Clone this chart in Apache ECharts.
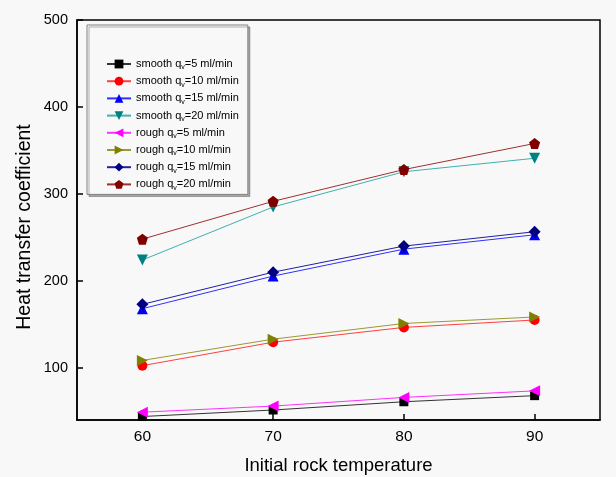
<!DOCTYPE html>
<html><head><meta charset="utf-8">
<script src="https://cdn.jsdelivr.net/npm/echarts@6/dist/echarts.min.js"></script>
<style>html,body{margin:0;padding:0;background:#f8f8f8}#c{width:616px;height:477px}</style>
</head><body><div id="c"></div>
<script>
const temps = [60, 70, 80, 90];
const xTicks = [60, 70, 80, 90];
const yTicks = [100, 200, 300, 400, 500];
const smooth5  = [44, 51.5, 61, 68];
const smooth10 = [102.5, 129.5, 146.5, 155];
const smooth15 = [168, 205.5, 236.5, 253];
const smooth20 = [224, 285, 325.5, 341];
const rough5   = [49, 56, 66, 73.5];
const rough10  = [108.5, 133, 151, 158.5];
const rough15  = [173, 210, 240, 256.5];
const rough20  = [248, 291.5, 328, 358];
const seriesNames = ['smooth q|v|=5 ml/min','smooth q|v|=10 ml/min','smooth q|v|=15 ml/min','smooth q|v|=20 ml/min',
  'rough q|v|=5 ml/min','rough q|v|=10 ml/min','rough q|v|=15 ml/min','rough q|v|=20 ml/min'];
const seriesData = [smooth5, smooth10, smooth15, smooth20, rough5, rough10, rough15, rough20];
const pentagon = 'path://M0,-1 L0.951,-0.309 L0.588,0.809 L-0.588,0.809 L-0.951,-0.309 Z';
const styles = [
  {sym:'rect', rot:0, c:'#000000', lc:'#333333', size:9},
  {sym:'circle', rot:0, c:'#ff0000', lc:'#ff4040', size:10},
  {sym:'triangle', rot:0, c:'#0000ff', lc:'#3030ff', size:11},
  {sym:'triangle', rot:180, c:'#008080', lc:'#40b0b0', size:11},
  {sym:'triangle', rot:90, c:'#ff00ff', lc:'#ff30ff', size:11},
  {sym:'triangle', rot:-90, c:'#808000', lc:'#9a9a30', size:11},
  {sym:'diamond', rot:0, c:'#000080', lc:'#2020a0', size:12},
  {sym:pentagon, rot:0, c:'#800000', lc:'#a03030', size:11}
];
const series = seriesNames.map((n, i) => ({
  name: n, type: 'line',
  data: temps.map((t, k) => [t, seriesData[i][k]]),
  symbol: styles[i].sym, symbolRotate: styles[i].rot, symbolSize: styles[i].size,
  itemStyle: {color: styles[i].c},
  lineStyle: {color: styles[i].lc, width: 1},
  z: 2 + i
}));
const chart = echarts.init(document.getElementById('c'));
chart.setOption({
  backgroundColor: '#f8f8f8',
  animation: false,
  textStyle: {fontFamily: 'Liberation Sans, Arial, sans-serif'},
  grid: {left: 77, right: 16, top: 20, bottom: 57, outerBoundsMode: 'none', containLabel: false,
    show: true, borderColor: '#000', borderWidth: 1.5, backgroundColor: 'transparent'},
  legend: {
    orient: 'vertical', left: 87, top: 25,
    padding: [32, 9, 3, 19],
    backgroundColor: '#f8f8f8',
    borderColor: '#808080', borderWidth: 1,
    shadowColor: 'rgba(0,0,0,0.3)', shadowOffsetX: 2, shadowOffsetY: 2, shadowBlur: 0,
    itemWidth: 24, itemHeight: 11, itemGap: 3.2,
    data: seriesNames,
    formatter: function (name) {
      const p = name.split('|');
      return '{a|' + p[0] + '}{s|' + p[1] + '}{a|' + p[2] + '}';
    },
    textStyle: {
      color: '#000',
      rich: {
        a: {fontSize: 11, fontFamily: 'Liberation Sans, Arial, sans-serif', color: '#000', lineHeight: 13},
        s: {fontSize: 7, fontFamily: 'Liberation Sans, Arial, sans-serif', color: '#000', padding: [7, 0, 0, 0], lineHeight: 13}
      }
    }
  },
  xAxis: {
    type: 'value', min: 55, max: 95,
    name: 'Initial rock temperature', nameLocation: 'middle', nameGap: 36,
    nameTextStyle: {fontSize: 18.5, color: '#000'},
    axisLine: {show: true, lineStyle: {color: '#000', width: 1.5}},
    axisTick: {show: true, inside: true, length: 6, customValues: xTicks, lineStyle: {color: '#000', width: 1.5}},
    axisLabel: {customValues: xTicks, fontSize: 15.5, color: '#000', margin: 9},
    splitLine: {show: false}
  },
  yAxis: {
    type: 'value', min: 40, max: 500,
    name: 'Heat transfer coefficient', nameLocation: 'middle', nameGap: 52, nameRotate: 90,
    nameMoveOverlap: false,
    nameTextStyle: {fontSize: 19.5, color: '#000', verticalAlign: 'middle', padding: [0, 14, 0, 0]},
    axisLine: {show: true, lineStyle: {color: '#000', width: 1.5}},
    axisTick: {show: true, inside: true, length: 6, customValues: yTicks, lineStyle: {color: '#000', width: 1.5}},
    axisLabel: {customValues: yTicks, fontSize: 14.5, color: '#000', margin: 9},
    splitLine: {show: false}
  },
  series: series
});
</script></body></html>
